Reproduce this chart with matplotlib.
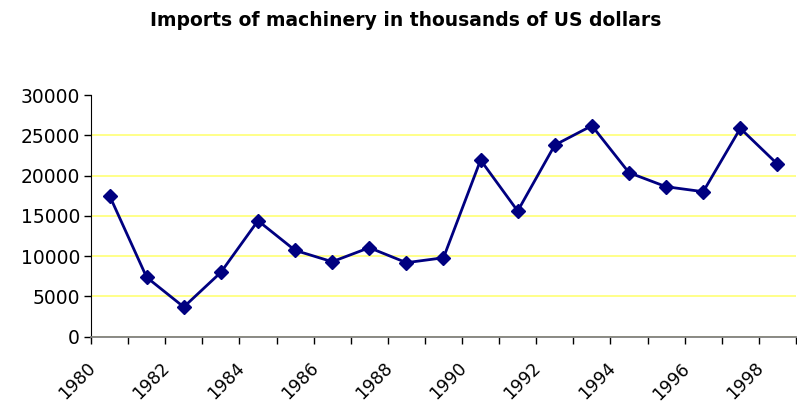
import matplotlib
matplotlib.use("Agg")
import matplotlib.pyplot as plt
import numpy as np

years = list(range(1980, 1999))
values = [17500, 7370, 3690, 7990, 14400, 10720, 9310, 11050, 9190, 9800,
          21930, 15600, 23790, 26190, 20360, 18620, 18000, 25860, 21430]
tick_labels = [str(y) for y in years]

plt.rcParams['font.family'] = ['DejaVu Sans']

fig = plt.figure(figsize=(7.97, 4.05), dpi=100)
ax = fig.add_axes([0.1142, 0.1686, 0.8845, 0.5968])

n = len(years)
x = np.arange(n) + 0.5
ax.plot(x, values, color='#000080', lw=2, marker='D', markersize=7.5,
        markerfacecolor='#000080', markeredgecolor='#000080', zorder=3)

ax.set_xlim(0, n)
ax.set_ylim(0, 30000)
ax.set_yticks(np.arange(0, 30001, 5000))
ax.tick_params(axis='y', labelsize=13.5, length=5, width=1, direction='out',
               pad=3, color='black')
ax.yaxis.grid(True, color='#FFFF80', lw=1.3)
ax.set_axisbelow(True)
gl = ax.yaxis.get_gridlines()
gl[-1].set_visible(False)

ax.set_xticks(np.arange(0, n + 1))
ax.set_xticklabels([])
ax.tick_params(axis='x', length=5, width=1, direction='out', color='black')
for i, lab in enumerate(tick_labels):
    if i % 2 == 0:
        ax.text(x[i] - 0.62, -2800, lab, rotation=45, ha='right', va='top',
                rotation_mode='anchor', fontsize=12.5, transform=ax.transData)

for s in ['top', 'right']:
    ax.spines[s].set_visible(False)
ax.spines['left'].set_color('black')
ax.spines['bottom'].set_color('#808080')
ax.spines['bottom'].set_linewidth(1.3)

fig.text(0.509, 0.95, 'Imports of machinery in thousands of US dollars',
         ha='center', va='center', fontsize=13.5, fontweight='bold')

fig.savefig('out.png', dpi=100)
